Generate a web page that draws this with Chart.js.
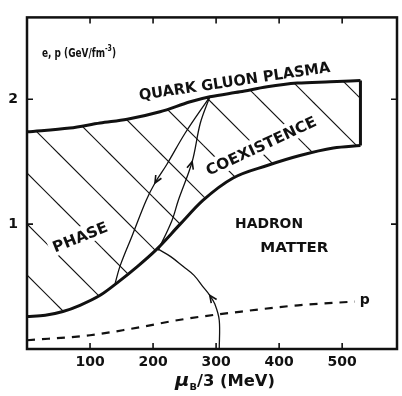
<!DOCTYPE html>
<html>
<head>
<meta charset="utf-8">
<script src="https://cdn.jsdelivr.net/npm/chart.js@4.4.1/dist/chart.umd.min.js"></script>
<style>
  html, body { margin: 0; padding: 0; background: #fff; }
  #wrap { width: 402px; height: 396px; position: relative; }
</style>
</head>
<body>
<div id="wrap"><canvas id="phaseChart"></canvas></div>
<script>
// ---- axis ticks ----
const xTickValues = [100, 200, 300, 400, 500];
const yTickValues = [1, 2];

// ---- phase boundaries : mu_B/3 (MeV) vs energy density (GeV/fm^3) ----
const plasmaMu = [0, 68, 116, 159, 211, 259, 290, 338, 381, 429, 481, 529];
const plasmaE  = [1.74, 1.77, 1.81, 1.84, 1.90, 1.98, 2.02, 2.06, 2.10, 2.13, 2.14, 2.15];
const hadronMu = [0, 29, 57, 84, 116, 143, 175, 206, 243, 279, 327, 381, 433, 486, 529];
const hadronE  = [0.26, 0.27, 0.30, 0.35, 0.43, 0.53, 0.66, 0.80, 1.00, 1.19, 1.37, 1.47, 1.55, 1.61, 1.63];
const edgeMu = [529, 529];
const edgeE  = [2.15, 1.63];

// ---- pressure (dashed) ----
const pressureMu = [0, 100, 163, 250, 340, 430, 520];
const pressureP  = [0.07, 0.11, 0.16, 0.24, 0.30, 0.35, 0.38];

// ---- trajectories (thin lines with arrows) ----
const pathUpMu   = [305, 305, 298, 290, 279, 265, 248, 228, 208];
const pathUpE    = [0, 0.23, 0.36, 0.43, 0.50, 0.59, 0.66, 0.74, 0.80];
const pathMixMu  = [208, 230, 240, 262, 275, 290];
const pathMixE   = [0.79, 1.03, 1.19, 1.50, 1.81, 2.02];
const pathDownMu = [290, 251, 222, 203, 189, 167, 148, 140];
const pathDownE  = [2.02, 1.73, 1.48, 1.33, 1.19, 0.91, 0.67, 0.53];

const FONT = '"DejaVu Sans", sans-serif';
const INK = '#111';

function pts(xs, ys) {
  return xs.map((x, i) => ({ x: x, y: ys[i] }));
}

// diagonal hatching for the coexistence region
function makeHatch() {
  const size = 51;
  const c = document.createElement('canvas');
  c.width = size; c.height = size;
  const g = c.getContext('2d');
  g.strokeStyle = INK;
  g.lineWidth = 1.2;
  for (let k = -1; k <= 2; k++) {
    const off = 44 - size * k;
    g.beginPath();
    g.moveTo(-4, -4 + off);
    g.lineTo(size + 4, size + 4 + off);
    g.stroke();
  }
  return g.createPattern(c, 'repeat');
}

// arrows : dataset index + point index where the head sits
const arrows = [
  { ds: 4, at: 3 },
  { ds: 5, at: 3 },
  { ds: 6, at: 3 }
];

// text labels placed in data space
const labels = [
  { text: 'QUARK GLUON PLASMA', mu: 329, e: 2.15, angle: -8.4, width: 193, size: 15 },
  { text: 'COEXISTENCE', mu: 371, e: 1.63, angle: -25, width: 120, size: 15, knockout: true },
  { text: 'PHASE', mu: 84, e: 0.90, angle: -22, width: 58, size: 15, knockout: true },
  { text: 'HADRON', mu: 384, e: 1.01, angle: 0, width: 68, size: 14 },
  { text: 'MATTER', mu: 424, e: 0.82, angle: 0, width: 68, size: 14 }
];

function fitLabel(ctx, lab) {
  ctx.font = 'bold ' + lab.size + 'px ' + FONT;
  const w = ctx.measureText(lab.text).width;
  return { w: w, sx: lab.width / w, cap: lab.size * 0.73 };
}

const annotatePlugin = {
  id: 'annotate',
  afterDatasetDraw(chart, args) {
    if (args.index !== 0) return;
    // knock the hatching out behind labels
    const ctx = chart.ctx;
    const xs = chart.scales.x, ys = chart.scales.y;
    ctx.save();
    labels.filter(l => l.knockout).forEach(l => {
      const f = fitLabel(ctx, l);
      ctx.save();
      ctx.translate(xs.getPixelForValue(l.mu), ys.getPixelForValue(l.e));
      ctx.rotate(l.angle * Math.PI / 180);
      ctx.fillStyle = '#fff';
      ctx.fillRect(-l.width / 2 - 4, -f.cap / 2 - 4, l.width + 8, f.cap + 8);
      ctx.restore();
    });
    ctx.restore();
  },
  afterDatasetsDraw(chart) {
    const ctx = chart.ctx;
    const xs = chart.scales.x, ys = chart.scales.y;
    const area = chart.chartArea;
    ctx.save();
    ctx.fillStyle = INK;
    ctx.strokeStyle = INK;

    // arrow heads
    arrows.forEach(a => {
      const meta = chart.getDatasetMeta(a.ds);
      const p = meta.data[a.at], prev = meta.data[a.at - 1], next = meta.data[a.at + 1];
      const ang = Math.atan2(next.y - prev.y, next.x - prev.x);
      const len = 8, spread = 0.42;
      ctx.lineWidth = 1.6;
      ctx.beginPath();
      ctx.moveTo(p.x - len * Math.cos(ang - spread), p.y - len * Math.sin(ang - spread));
      ctx.lineTo(p.x, p.y);
      ctx.lineTo(p.x - len * Math.cos(ang + spread), p.y - len * Math.sin(ang + spread));
      ctx.stroke();
    });

    // region labels
    labels.forEach(l => {
      const f = fitLabel(ctx, l);
      ctx.save();
      ctx.translate(xs.getPixelForValue(l.mu), ys.getPixelForValue(l.e));
      ctx.rotate(l.angle * Math.PI / 180);
      ctx.scale(f.sx, 1);
      ctx.textAlign = 'center';
      ctx.textBaseline = 'alphabetic';
      ctx.fillText(l.text, 0, f.cap / 2);
      ctx.restore();
    });

    // pressure label
    ctx.font = 'bold 14px ' + FONT;
    ctx.textAlign = 'left';
    ctx.textBaseline = 'middle';
    ctx.fillText('p', xs.getPixelForValue(pressureMu[pressureMu.length - 1]) + 5,
      ys.getPixelForValue(pressureP[pressureP.length - 1]) - 1);

    // axis quantity, top left inside the frame
    drawParts(ctx, [
      { t: 'e, p (GeV/fm', size: 13 },
      { t: '-3', size: 9, dy: -6 },
      { t: ')', size: 13 }
    ], area.left + 15, area.top + 40, 74, 'left');

    // x-axis title
    drawParts(ctx, [
      { t: 'μ', size: 18, italic: true },
      { t: 'B', size: 9, dy: 4 },
      { t: '/3 (MeV)', size: 15 }
    ], area.left + 198, area.bottom + 37, 100, 'center');

    ctx.restore();
  }
};

function drawParts(ctx, parts, x, baseline, width, align) {
  let total = 0;
  parts.forEach(p => {
    p.font = (p.italic ? 'italic ' : '') + 'bold ' + p.size + 'px ' + FONT;
    ctx.font = p.font;
    p.w = ctx.measureText(p.t).width;
    total += p.w;
  });
  const sx = width / total;
  ctx.save();
  ctx.translate(align === 'center' ? x - width / 2 : x, baseline);
  ctx.scale(sx, 1);
  ctx.textAlign = 'left';
  ctx.textBaseline = 'alphabetic';
  let cx = 0;
  parts.forEach(p => {
    ctx.font = p.font;
    ctx.fillText(p.t, cx, p.dy || 0);
    cx += p.w;
  });
  ctx.restore();
}

// frame with inward ticks on all four sides
const framePlugin = {
  id: 'frame',
  afterDraw(chart) {
    const ctx = chart.ctx;
    const a = chart.chartArea;
    const xs = chart.scales.x, ys = chart.scales.y;
    const tl = 6;
    ctx.save();
    ctx.strokeStyle = INK;
    ctx.lineWidth = 2.5;
    ctx.strokeRect(a.left, a.top, a.right - a.left, a.bottom - a.top);
    ctx.lineWidth = 1.6;
    ctx.beginPath();
    xTickValues.forEach(v => {
      const px = xs.getPixelForValue(v);
      ctx.moveTo(px, a.bottom); ctx.lineTo(px, a.bottom - tl);
      ctx.moveTo(px, a.top); ctx.lineTo(px, a.top + tl);
    });
    yTickValues.forEach(v => {
      const py = ys.getPixelForValue(v);
      ctx.moveTo(a.left, py); ctx.lineTo(a.left + tl, py);
      ctx.moveTo(a.right, py); ctx.lineTo(a.right - tl, py);
    });
    ctx.stroke();
    ctx.restore();
  }
};

const thick = { borderColor: INK, borderWidth: 3, pointRadius: 0, fill: false };
const thin = { borderColor: INK, borderWidth: 1.3, pointRadius: 0, fill: false, tension: 0.35 };

new Chart(document.getElementById('phaseChart'), {
  type: 'line',
  data: {
    datasets: [
      Object.assign({}, thick, {
        label: 'plasma boundary', data: pts(plasmaMu, plasmaE),
        cubicInterpolationMode: 'monotone', fill: '+1', backgroundColor: makeHatch(), order: 10
      }),
      Object.assign({}, thick, {
        label: 'hadron boundary', data: pts(hadronMu, hadronE), cubicInterpolationMode: 'monotone'
      }),
      Object.assign({}, thick, { label: 'edge', data: pts(edgeMu, edgeE), tension: 0 }),
      {
        label: 'p', data: pts(pressureMu, pressureP), borderColor: INK, borderWidth: 2.2,
        borderDash: [8, 7], pointRadius: 0, fill: false, cubicInterpolationMode: 'monotone'
      },
      Object.assign({}, thin, { label: 'down', data: pts(pathDownMu, pathDownE) }),
      Object.assign({}, thin, { label: 'mix', data: pts(pathMixMu, pathMixE) }),
      Object.assign({}, thin, { label: 'up', data: pts(pathUpMu, pathUpE) })
    ]
  },
  options: {
    responsive: true,
    maintainAspectRatio: false,
    animation: false,
    layout: { padding: { top: 17, right: 5, left: 0, bottom: 0 } },
    plugins: { legend: { display: false }, tooltip: { enabled: false } },
    scales: {
      x: {
        type: 'linear', min: 0, max: 587,
        grid: { display: false, drawTicks: false },
        border: { display: false },
        afterBuildTicks: s => { s.ticks = xTickValues.map(v => ({ value: v })); },
        afterFit: s => { s.height = 47; },
        ticks: { color: INK, padding: 5, maxRotation: 0, font: { family: FONT, size: 14, weight: 'bold' } }
      },
      y: {
        type: 'linear', min: 0, max: 2.656,
        grid: { display: false, drawTicks: false },
        border: { display: false },
        afterBuildTicks: s => { s.ticks = yTickValues.map(v => ({ value: v })); },
        afterFit: s => { s.width = 27; },
        ticks: { color: INK, padding: 9, font: { family: FONT, size: 14, weight: 'bold' } }
      }
    }
  },
  plugins: [annotatePlugin, framePlugin]
});
</script>
</body>
</html>
